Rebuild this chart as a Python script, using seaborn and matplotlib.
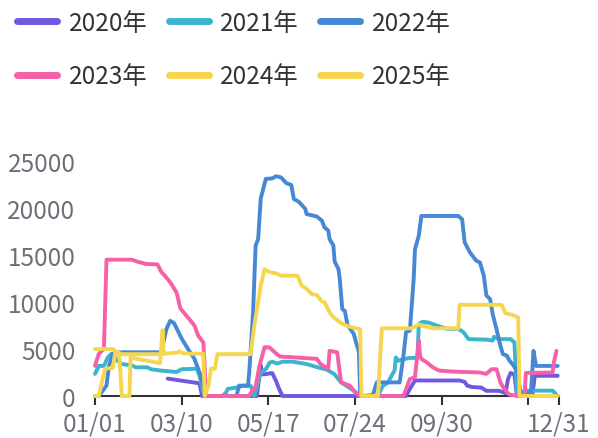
import matplotlib
matplotlib.use("Agg")
import matplotlib.pyplot as plt
from matplotlib.lines import Line2D
import pandas as pd
import seaborn as sns

# Day-of-year categories (MM/DD)
categories = pd.date_range("2021-01-01", "2021-12-31").strftime("%m/%d").tolist()

years = ["2020年", "2021年", "2022年", "2023年", "2024年", "2025年"]
colors = ["#7058E0", "#3BB4CE", "#4688D6", "#F560A8", "#F6D64F", "#F6D64F"]

dates_2020 = ["02/27", "03/24", "03/26", "05/08", "05/11", "05/12", "05/16", "05/20", "05/23",
              "05/25", "05/28", "09/02", "09/05", "09/09", "10/14", "10/18", "10/20", "10/24",
              "10/31", "11/04", "11/14", "11/19", "11/21", "11/23", "11/26", "11/28", "12/10",
              "12/12", "12/30"]
values_2020 = [1850, 1350, 0, 0, 3300, 2300, 2350, 2450, 1600,
               900, 0, 0, 750, 1650, 1650, 1500, 1100, 950,
               900, 550, 550, 300, 1800, 2450, 2300, 0, 0,
               2150, 2150]

dates_2021 = ["01/01", "01/04", "01/08", "01/11", "01/14", "01/16", "01/18", "01/22", "01/30",
              "02/02", "02/11", "02/14", "02/22", "03/06", "03/10", "03/22", "03/24", "03/27",
              "03/29", "04/11", "04/14", "04/15", "04/24", "04/27", "05/03", "05/05", "05/06",
              "05/09", "05/11", "05/15", "05/18", "05/20", "05/24", "05/28", "06/05", "06/16",
              "06/26", "07/02", "07/08", "07/13", "07/17", "07/23", "07/28", "08/11", "08/13",
              "08/15", "08/19", "08/21", "08/24", "08/25", "08/27", "08/30", "09/05", "09/11",
              "09/12", "09/15", "09/20", "09/26", "10/04", "10/13", "10/17", "10/21", "11/04",
              "11/09", "11/10", "11/14", "11/23", "11/26", "11/28", "11/30", "12/05", "12/26",
              "12/30"]
values_2021 = [2350, 3200, 3200, 4100, 4500, 4450, 3800, 3400, 3250,
               3050, 3050, 2850, 2700, 2550, 2850, 2900, 2150, 400,
               0, 0, 400, 750, 950, 1100, 1100, 400, 0,
               1450, 2500, 2850, 3550, 3650, 3450, 3650, 3650, 3400,
               3000, 2800, 2300, 1450, 1100, 570, 0, 0, 600,
               1100, 1450, 2000, 2700, 4100, 3750, 3900, 4050, 4050,
               7650, 7900, 7800, 7500, 7150, 7150, 6800, 6050, 6000,
               5900, 6300, 6050, 6050, 5700, 400, 400, 570, 570,
               0]

dates_2022 = ["01/01", "01/04", "01/10", "01/12", "01/15", "01/18", "02/22", "02/26", "03/01",
              "03/04", "03/10", "03/15", "03/20", "03/25", "03/28", "03/29", "04/22", "04/24",
              "05/01", "05/02", "05/05", "05/07", "05/09", "05/11", "05/15", "05/20", "05/23",
              "05/27", "05/31", "06/04", "06/06", "06/10", "06/15", "06/16", "06/24", "06/28",
              "06/30", "07/03", "07/04", "07/07", "07/08", "07/11", "07/12", "07/14", "07/16",
              "07/18", "07/23", "07/25", "07/27", "07/28", "07/29", "08/07", "08/10", "08/28",
              "08/31", "09/02", "09/05", "09/08", "09/09", "09/12", "09/14", "10/13", "10/16",
              "10/18", "10/22", "10/27", "10/30", "11/02", "11/04", "11/07", "11/09", "11/12",
              "11/15", "11/17", "11/20", "11/22", "11/25", "11/28", "12/01", "12/09", "12/11",
              "12/13", "12/30"]
values_2022 = [0, 0, 1100, 3200, 4500, 4650, 4650, 7100, 8000,
               7750, 6100, 5000, 3950, 2150, 400, 0, 0, 1100,
               1100, 2500, 8900, 16000, 16700, 21000, 23100, 23150, 23380,
               23250, 22650, 22450, 20950, 20650, 19900, 19350, 19100, 18650,
               17950, 17600, 16700, 16000, 14300, 13500, 12450, 9250, 9050,
               7600, 6600, 5600, 4700, 400, 0, 100, 1450, 1450,
               4300, 6800, 6950, 12450, 15600, 17050, 19150, 19150, 18800,
               16350, 15300, 14400, 14200, 12800, 10700, 10300, 8700, 7100,
               5350, 4450, 4300, 3800, 3300, 2700, 200, 300, 4800,
               3200, 3200]

dates_2023 = ["01/01", "01/04", "01/08", "01/10", "01/30", "02/03", "02/10", "02/19", "02/22",
              "02/27", "03/02", "03/06", "03/09", "03/14", "03/20", "03/23", "03/27", "03/28",
              "03/29", "05/02", "05/03", "05/07", "05/10", "05/14", "05/18", "05/22", "05/26",
              "06/02", "06/24", "06/27", "07/03", "07/04", "07/10", "07/12", "07/13", "07/20",
              "07/24", "07/28", "08/31", "09/05", "09/09", "09/12", "09/13", "09/14", "09/18",
              "09/23", "09/28", "10/08", "10/30", "11/04", "11/08", "11/12", "11/15", "11/18",
              "11/22", "11/30", "12/04", "12/05", "12/26", "12/27", "12/29"]
values_2023 = [3200, 4500, 5000, 14500, 14500, 14300, 14050, 14000, 13200,
               12450, 11900, 11000, 9300, 8500, 7500, 6400, 5700, 3200,
               0, 0, 300, 1000, 3200, 5200, 5150, 4650, 4200,
               4150, 3950, 3400, 2900, 4800, 4650, 2500, 1450, 1100,
               400, 0, 0, 1800, 2000, 5900, 4300, 3950, 3600,
               3050, 2700, 2600, 2500, 2350, 2850, 2850, 1450, 750,
               150, 0, 0, 2450, 2500, 3600, 4800]

dates_2024 = ["01/01", "01/15", "01/19", "01/21", "02/22", "02/24", "03/06", "03/08", "03/11",
              "03/16", "03/27", "03/28", "03/31", "04/02", "04/05", "04/07", "05/03", "05/06",
              "05/09", "05/11", "05/14", "05/16", "05/19", "05/23", "05/27", "06/09", "06/12",
              "06/16", "06/20", "06/24", "06/28", "06/30", "07/04", "07/07", "07/12", "07/17",
              "07/23", "07/28", "07/29", "08/11", "08/14", "09/06", "09/12", "09/20", "09/23",
              "10/13", "10/14", "11/16", "11/19", "11/25", "11/29", "11/30", "12/30"]
values_2024 = [5000, 5000, 4600, 4450, 4450, 4500, 4600, 4750, 4550,
               4500, 4500, 0, 1100, 2900, 2900, 4450, 4450, 7500,
               10000, 11700, 13500, 13300, 13150, 13050, 12800, 12800, 11750,
               11400, 10850, 10750, 10050, 10000, 8900, 8400, 7850, 7500,
               7250, 7100, 0, 0, 7200, 7200, 7600, 7300, 7200,
               7200, 9700, 9700, 8800, 8600, 8350, 0, 0]

dates_2025 = ["01/01", "01/04", "01/07", "01/09", "01/15", "01/17", "01/20", "01/22", "01/28",
              "01/29", "02/01", "02/21", "02/23", "02/24"]
values_2025 = [0, 0, 1850, 2900, 3000, 4700, 4600, 0, 0,
               4300, 4000, 3500, 7000, 4500]

series_dates = [dates_2020, dates_2021, dates_2022, dates_2023, dates_2024, dates_2025]
series_values = [values_2020, values_2021, values_2022, values_2023, values_2024, values_2025]

tick_dates = ["01/01", "03/10", "05/17", "07/24", "09/30", "12/07", "12/31"]
tick_labels = ["01/01", "03/10", "05/17", "07/24", "09/30", "", "12/31"]
y_ticks = [0, 5000, 10000, 15000, 20000, 25000]

sns.set_theme(style="white")
plt.rcParams["font.family"] = ["Noto Sans CJK SC", "DejaVu Sans"]

FS = 17.5
AXIS_GREY = "#6E7079"

W, H = 598, 439
fig = plt.figure(figsize=(W / 100, H / 100), dpi=100)
ax = fig.add_axes([95 / W, 1 - 397 / H, 464 / W, 235 / H])

pos = {d: i for i, d in enumerate(categories)}
frames = []
for name, ds, vs in zip(years, series_dates, series_values):
    frames.append(pd.DataFrame({"day": [pos[d] for d in ds], "value": vs, "year": name}))
data = pd.concat(frames, ignore_index=True)

for name, col in zip(years, colors):
    sub = data[data["year"] == name]
    sns.lineplot(data=sub, x="day", y="value", ax=ax, color=col, linewidth=2.8,
                 sort=False, estimator=None, legend=False, clip_on=False,
                 solid_joinstyle="round", solid_capstyle="round")

ax.set_xlim(0, len(categories) - 1)
ax.set_ylim(0, 25000)
ax.set_xlabel("")
ax.set_ylabel("")

ax.set_xticks([pos[d] for d in tick_dates])
ax.set_xticklabels(tick_labels)
ax.set_yticks(y_ticks)
ax.set_yticklabels([str(v) for v in y_ticks])

for s in ["top", "right", "left"]:
    ax.spines[s].set_visible(False)
ax.spines["bottom"].set_color("#333333")
ax.spines["bottom"].set_linewidth(1.5)
ax.spines["bottom"].set_zorder(0)

ax.tick_params(axis="x", bottom=True, length=6.5, width=1.5, color="#333333",
               labelsize=FS, labelcolor=AXIS_GREY, pad=4)
ax.tick_params(axis="y", left=False, labelsize=FS, labelcolor=AXIS_GREY, pad=8)
ax.grid(False)

# Legend laid out row by row: 2020-2022 on top, 2023-2025 below
px = FS * 100 / 72
order = [0, 3, 1, 4, 2, 5]
handles = [Line2D([0], [0], color=colors[i], lw=5, solid_capstyle="round") for i in order]
labels = [years[i] for i in order]
fig.legend(handles, labels, ncol=3, loc="upper left",
           bbox_to_anchor=(17 / W, 1 - 11 / H), frameon=False, fontsize=FS,
           handlelength=40 / px, handletextpad=11.5 / px, columnspacing=21.5 / px,
           borderpad=0, borderaxespad=0, labelspacing=1.12, labelcolor="#333333")

fig.savefig("out.png", dpi=100)
